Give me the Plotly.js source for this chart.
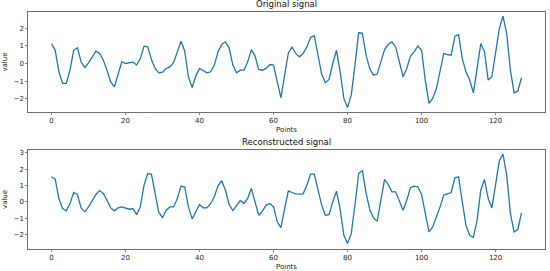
<!DOCTYPE html>
<html>
<head>
<meta charset="utf-8">
<script src="https://cdn.plot.ly/plotly-3.0.1.min.js"></script>
<style>
  html, body { margin: 0; padding: 0; background: #fff; }
  #gd { width: 550px; height: 271px; }
</style>
</head>
<body>
<div id="gd"></div>
<script>
let points = Array.from({length: 128}, (_, i) => i);

let original = [
  1.13, 0.75, -0.47, -1.13, -1.13, -0.38, 0.75, 0.89, 0.1, -0.23,
  0.04, 0.41, 0.7, 0.57, 0.19, -0.38, -1.04, -1.32, -0.57, 0.1,
  0.0, 0.02, 0.08, -0.09, 0.28, 0.98, 0.94, 0.23, -0.28, -0.53,
  -0.49, -0.28, -0.19, 0.06, 0.66, 1.26, 0.7, -0.75, -1.36, -0.7,
  -0.28, -0.42, -0.53, -0.47, -0.09, 0.66, 1.08, 1.23, 0.89, -0.09,
  -0.53, -0.38, -0.38, 0.09, 0.79, 0.42, -0.34, -0.38, -0.28, -0.06,
  -0.09, -1.04, -1.94, -0.66, 0.6, 0.94, 0.57, 0.38, 0.57, 0.94,
  1.47, 1.58, 0.47, -0.6, -1.09, -0.9, 0.0, 0.75, -0.47, -1.98,
  -2.49, -1.79, -0.09, 1.74, 1.72, 0.47, -0.3, -0.66, -0.6, 0.09,
  0.79, 1.09, 1.23, 0.94, 0.0, -0.75, -0.28, 0.42, 0.66, 1.0,
  0.75, -0.94, -2.26, -1.98, -1.42, -0.47, 0.57, 0.51, 0.47, 1.55,
  1.64, 0.28, -0.47, -0.94, -1.66, -0.28, 1.13, 0.66, -0.94, -0.75,
  0.66, 1.98, 2.68, 1.7, -0.38, -1.66, -1.57, -0.81
];

let reconstructed = [
  1.53, 1.39, 0.2, -0.41, -0.55, -0.1, 0.57, 0.45, -0.37, -0.61,
  -0.31, 0.04, 0.45, 0.69, 0.51, 0.1, -0.37, -0.55, -0.37, -0.31,
  -0.37, -0.45, -0.41, -0.78, -0.31, 1.02, 1.73, 1.69, 0.51, -0.65,
  -0.96, -0.51, -0.31, -0.31, 0.2, 0.96, 0.9, -0.31, -1.04, -0.57,
  -0.16, -0.37, -0.37, -0.1, 0.31, 0.98, 1.29, 0.71, -0.16, -0.53,
  -0.2, 0.08, -0.1, 0.2, 0.82, 0.0, -0.82, -0.57, -0.2, -0.1,
  -0.31, -1.22, -1.57, -0.41, 0.67, 0.57, 0.49, 0.47, 0.49, 1.02,
  1.69, 1.69, 0.82, -0.2, -0.82, -0.78, 0.0, 0.65, -0.45, -2.04,
  -2.55, -1.94, -0.2, 1.73, 1.9, 0.55, -0.48, -0.98, -1.18, 0.0,
  1.37, 1.06, 0.61, 0.61, 0.1, -0.51, 0.1, 0.86, 0.96, 0.92,
  0.45, -0.82, -1.84, -1.53, -0.98, -0.31, 0.41, 0.49, 0.57, 1.47,
  1.53, 0.0, -1.43, -2.04, -2.16, -1.12, 0.71, 1.37, 0.2, -0.37,
  1.02, 2.49, 2.92, 1.63, -0.71, -1.84, -1.69, -0.67
];

let xTicks = [0, 20, 40, 60, 80, 100, 120];

let lineStyle = { color: '#1f77b4', width: 1.3 };

let traceOriginal = {
  x: points,
  y: original,
  mode: 'lines',
  line: lineStyle,
  xaxis: 'x',
  yaxis: 'y',
  showlegend: false
};

let traceReconstructed = {
  x: points,
  y: reconstructed,
  mode: 'lines',
  line: lineStyle,
  xaxis: 'x2',
  yaxis: 'y2',
  showlegend: false
};

let tickFont = { family: 'DejaVu Sans', size: 7, color: '#222' };

function xAxis(anchor) {
  return {
    anchor: anchor,
    range: [-6.35, 133.35],
    tickvals: xTicks,
    ticks: 'outside',
    ticklen: 2,
    tickwidth: 0.6,
    tickcolor: '#333',
    showline: true,
    mirror: true,
    linecolor: '#333',
    linewidth: 0.7,
    showgrid: false,
    zeroline: false,
    tickfont: tickFont,
    title: { text: 'Points', font: { family: 'DejaVu Sans', size: 7, color: '#222' }, standoff: 2 }
  };
}

function yAxis(anchor, domain, range, ticks) {
  return {
    anchor: anchor,
    domain: domain,
    range: range,
    tickvals: ticks,
    ticks: 'outside',
    ticklen: 2,
    tickwidth: 0.6,
    tickcolor: '#333',
    showline: true,
    mirror: true,
    linecolor: '#333',
    linewidth: 0.7,
    showgrid: false,
    zeroline: false,
    tickfont: tickFont,
    title: { text: 'value', font: { family: 'DejaVu Sans', size: 7, color: '#222' }, standoff: 4 }
  };
}

let layout = {
  width: 550,
  height: 271,
  margin: { l: 28, r: 5, t: 12, b: 22 },
  paper_bgcolor: '#fff',
  plot_bgcolor: '#fff',
  xaxis: xAxis('y'),
  yaxis: yAxis('x', [0.578, 1], [-2.75, 2.92], [-2, -1, 0, 1, 2]),
  xaxis2: xAxis('y2'),
  yaxis2: yAxis('x2', [0, 0.418], [-2.88, 3.17], [-2, -1, 0, 1, 2, 3]),
  annotations: [
    {
      text: 'Original signal', xref: 'paper', yref: 'paper', x: 0.5, y: 1,
      yanchor: 'bottom', yshift: 1, showarrow: false,
      font: { family: 'DejaVu Sans', size: 8.5, color: '#111' }
    },
    {
      text: 'Reconstructed signal', xref: 'paper', yref: 'paper', x: 0.5, y: 0.418,
      yanchor: 'bottom', yshift: 1, showarrow: false,
      font: { family: 'DejaVu Sans', size: 8.5, color: '#111' }
    }
  ]
};

Plotly.newPlot('gd', [traceOriginal, traceReconstructed], layout, { displayModeBar: false, staticPlot: true });
</script>
</body>
</html>
